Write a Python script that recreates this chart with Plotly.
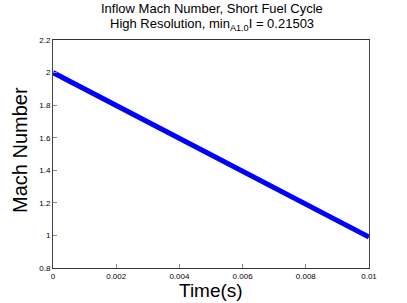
import plotly.graph_objects as go

time_s = [0.0, 0.002, 0.004, 0.006, 0.008, 0.01]
mach = [2.0, 1.798, 1.596, 1.394, 1.192, 0.99]

x_ticks = [0, 0.002, 0.004, 0.006, 0.008, 0.01]
x_labels = ["0", "0.002", "0.004", "0.006", "0.008", "0.01"]
y_ticks = [0.8, 1.0, 1.2, 1.4, 1.6, 1.8, 2.0, 2.2]
y_labels = ["0.8", "1", "1.2", "1.4", "1.6", "1.8", "2", "2.2"]

fig = go.Figure()
fig.add_trace(go.Scatter(x=time_s, y=mach, mode="lines",
                         line=dict(color="#0000ff", width=5), showlegend=False,
                         hoverinfo="skip"))

font = "Liberation Sans, Arial, sans-serif"
W, H = 407, 303
L, R, T, B = 53, 38, 40, 35
fig.update_layout(
    width=W, height=H,
    margin=dict(l=L, r=R, t=T, b=B, autoexpand=False),
    paper_bgcolor="white", plot_bgcolor="white",
    font=dict(family=font, color="black"),
    xaxis=dict(range=[0, 0.01], tickvals=x_ticks, ticktext=x_labels,
               ticks="inside", ticklen=4, tickcolor="#888888",
               showline=True, linecolor="#333333", linewidth=1, mirror=True,
               showgrid=False, zeroline=False, tickfont=dict(size=8),
               automargin=False),
    yaxis=dict(range=[0.8, 2.2], tickvals=y_ticks, ticktext=y_labels,
               ticks="inside", ticklen=4, tickcolor="#888888",
               showline=True, linecolor="#444444", linewidth=1, mirror=True,
               showgrid=False, zeroline=False, tickfont=dict(size=8),
               automargin=False),
    annotations=[
        dict(text="Inflow Mach Number, Short Fuel Cycle", xref="paper", yref="paper",
             x=(212 - L) / (W - L - R), y=1 + (T - 9) / (H - T - B),
             xanchor="center", yanchor="middle", borderpad=0,
             showarrow=False, font=dict(size=13)),
        dict(text="High Resolution, min<sub>A1.0</sub>I = 0.21503", xref="paper", yref="paper",
             x=(212 - L) / (W - L - R), y=1 + (T - 24) / (H - T - B),
             xanchor="center", yanchor="middle", borderpad=0,
             showarrow=False, font=dict(size=13)),
        dict(text="Time(s)", xref="paper", yref="paper",
             x=(211 - L) / (W - L - R), y=-(290 - (H - B)) / (H - T - B),
             xanchor="center", yanchor="middle",
             showarrow=False, font=dict(size=19)),
        dict(text="Mach Number", xref="paper", yref="paper", textangle=-90,
             x=-(L - 20) / (W - L - R), y=(H - B - 150) / (H - T - B),
             xanchor="center", yanchor="middle",
             showarrow=False, font=dict(size=20)),
    ],
)
fig.write_html("out.html", config={"displayModeBar": False},
               post_script="document.body.style.margin='0';document.body.style.overflow='hidden';")
